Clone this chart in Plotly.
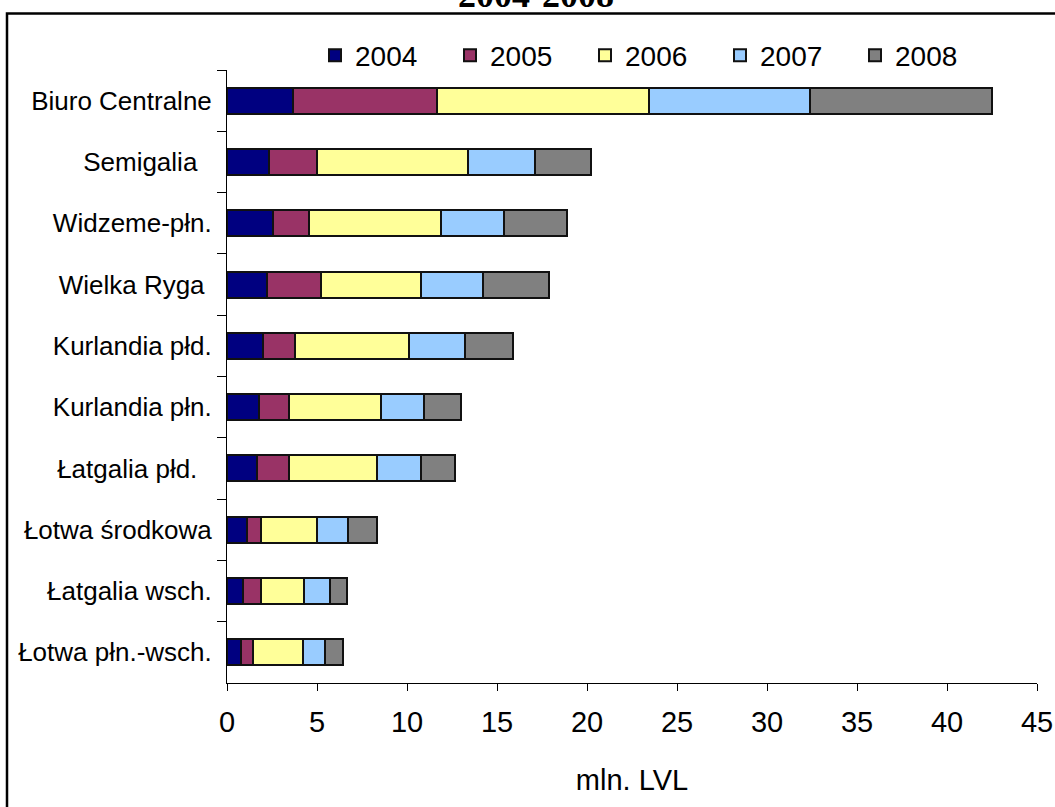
import plotly.graph_objects as go

regions = ["Biuro Centralne", "Semigalia\u00a0\u00a0", "Widzeme-płn.", "Wielka Ryga\u00a0",
           "Kurlandia płd.", "Kurlandia płn.", "Łatgalia płd.\u00a0\u00a0", "Łotwa środkowa",
           "Łatgalia wsch.", "Łotwa płn.-wsch."]
years = ["2004", "2005", "2006", "2007", "2008"]
v2004 = [3.65, 2.33, 2.54, 2.22, 1.98, 1.78, 1.65, 1.09, 0.87, 0.76]
v2005 = [8.00, 2.65, 2.00, 2.98, 1.80, 1.65, 1.78, 0.78, 1.00, 0.67]
v2006 = [11.80, 8.42, 7.33, 5.56, 6.31, 5.11, 4.88, 3.11, 2.43, 2.77]
v2007 = [8.95, 3.70, 3.53, 3.46, 3.13, 2.42, 2.45, 1.76, 1.44, 1.23]
v2008 = [10.10, 3.10, 3.47, 3.68, 2.65, 2.02, 1.91, 1.57, 0.91, 1.03]
series = [v2004, v2005, v2006, v2007, v2008]
colors = ["#000080", "#993366", "#FFFF99", "#99CCFF", "#808080"]
x_ticks = [0, 5, 10, 15, 20, 25, 30, 35, 40, 45]
title_text = "2004-2008"
axis_title = "mln. LVL"

fig = go.Figure()
for name, vals, col in zip(years, series, colors):
    fig.add_trace(go.Bar(
        y=regions, x=vals, name=name, orientation="h",
        marker=dict(color=col, line=dict(color="#111111", width=2)),
    ))

# body margin is removed in the page (post_script), so page pixels == figure pixels
W, H = 1055, 807
L, R, T, B = 227, 18, 69.5, 807 - 683
pw, ph = W - L - R, H - T - B

def px_x(p):
    return (p - L) / pw

def px_y(p):
    return (H - B - p) / ph

fig.update_layout(
    width=W, height=H,
    margin=dict(l=L, r=R, t=T, b=B, autoexpand=False),
    barmode="stack", bargap=0.576,
    plot_bgcolor="white", paper_bgcolor="white",
    font=dict(family="Liberation Sans, Arial, sans-serif", color="black"),
    showlegend=True,
    legend=dict(orientation="h", x=px_x(315), xanchor="left",
                y=px_y(55), yanchor="middle",
                font=dict(size=28), entrywidth=90, entrywidthmode="pixels",
                traceorder="normal", bgcolor="rgba(0,0,0,0)"),
    xaxis=dict(range=[0, 45], tickvals=x_ticks, ticks="outside", ticklen=7,
               tickcolor="black", showline=True, linecolor="black", linewidth=1,
               showgrid=False, zeroline=False, tickfont=dict(size=29),
               ticklabelstandoff=6,
               title=dict(text=axis_title, font=dict(size=29), standoff=32),
               automargin=False),
    yaxis=dict(categoryorder="array", categoryarray=regions, autorange="reversed",
               tickson="boundaries", ticks="outside", ticklen=9, tickcolor="black",
               showline=True, linecolor="black", linewidth=1, showgrid=False,
               tickfont=dict(size=26), ticklabelstandoff=9, automargin=False),
    shapes=[dict(type="rect", xref="paper", yref="paper",
                 x0=px_x(7), x1=px_x(1100), y0=px_y(860), y1=px_y(13),
                 line=dict(color="black", width=2.5), fillcolor="rgba(0,0,0,0)",
                 layer="below")],
    annotations=[dict(text="<b>" + title_text + "</b>", xref="paper", yref="paper",
                      x=px_x(536), y=px_y(16), xanchor="center", yanchor="bottom",
                      showarrow=False,
                      font=dict(family="Liberation Serif, Times New Roman, serif",
                                size=36, color="black"))],
)

fig.write_html("out.html", config={"displayModeBar": False},
               post_script="document.body.style.margin='0';document.body.style.overflow='hidden';")
